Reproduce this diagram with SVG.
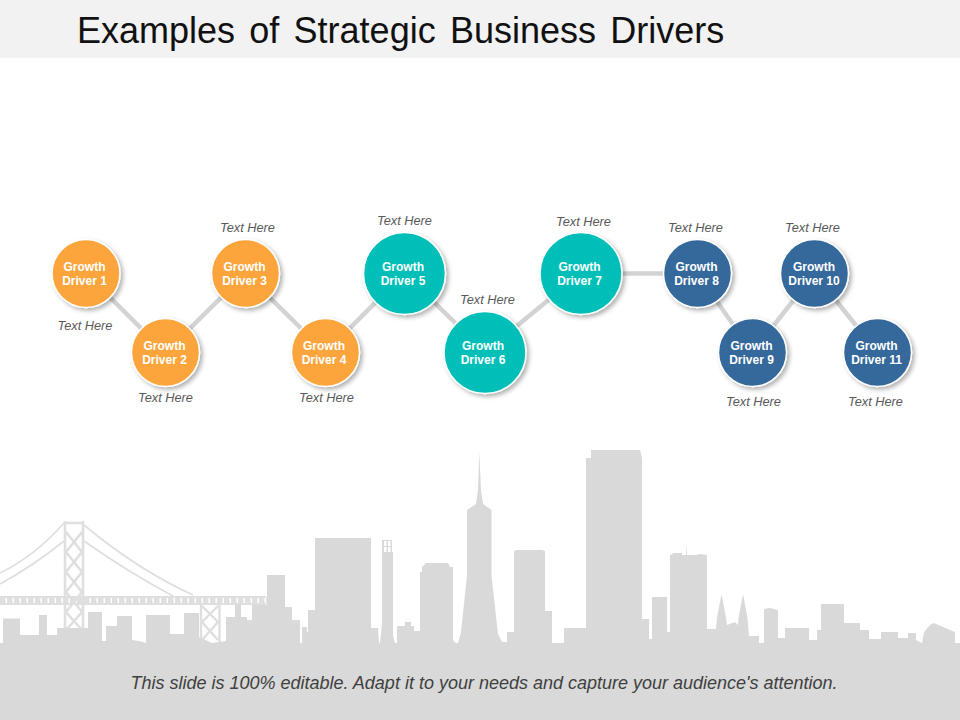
<svg xmlns="http://www.w3.org/2000/svg" width="960" height="720" viewBox="0 0 960 720">
<style>
text{font-family:"Liberation Sans",Arial,sans-serif}
.n{font-size:12px;font-weight:bold;fill:#fff;text-anchor:middle}
.l{font-size:12.8px;font-style:italic;fill:#595959;text-anchor:middle}
.o{fill:#fda53d;stroke:#fff;stroke-width:1.5}
.t{fill:#00bfb8;stroke:#fff;stroke-width:1.5}
.b{fill:#35689b;stroke:#fff;stroke-width:1.5}
.c{stroke:#d3d3d3;stroke-width:4.5;fill:none}
.br{stroke:#dfdfdf;fill:none}
</style>
<defs>
<filter id="s" x="-30%" y="-30%" width="170%" height="170%"><feDropShadow dx="2.5" dy="2.5" stdDeviation="2.2" flood-color="#000" flood-opacity=".3"/></filter>
</defs>
<rect width="960" height="58" fill="#f2f2f2"/>
<text x="77" y="43" font-size="36" word-spacing="4.250" fill="#111">Examples of Strategic Business Drivers</text>

<g id="bridge" class="br">
<path d="M0 573Q35 556 64 523M84 525Q138 570 193 595M0 584Q33 566 64 541M84 541Q128 572 173 596" stroke-width="1.8"/>
<path d="M65 521V630M83 521V630M64 523H84M66 532L82 552L66 572L82 592L66 612L82 630M82 532L66 552L82 572L66 592L82 612L66 630" stroke-width="2.600"/>
<path d="M0 597H266M0 604H266" stroke-width="2"/>
<path d="M0 600.500H267" stroke-width="6" stroke-dasharray="5.500 1.500"/>
<path d="M201 604V642M219.500 604V642M202 606L218 622L202 640M218 606L202 622L218 640" stroke-width="2.400"/>
</g>
<path id="skyline" fill="#d9d9d9" d="M0 720V643H3V618.500H20V635H39V615H47V635H57V628H88V612H102V641H106V626H117V616H132V640L139 641L146 643V615H170V634H184V613H199V637L212 643L226 641V617H235V605H241V617H247V620H252V605H267V575H285V607H292V620H300V643H302V627H307V632H308V610H315V538H371V628H378L379 643H380L382 624V552H382V540H392V552H393V636L395 643H397V626H405V622H411V626H414V631H420V572H422V567L426 563H448L450 567H453V640L456 643H458L461 632L467 576V510L476 504L478 490L479.300 452L481 490L483 504L491.500 510V576L498 634L502 642H507V632H514V551L517 550H542L545 551V611H552V643H564V628H586V458H591V450H640L642 458V619H649V639H652V597H667V632H670V555L674 553H682V555H686L686.500 543L687 555H696L700 554L707 555V629H716L717 618L721.500 594L726 618L727 625L735 622L738 625L738.500 618L743 594L747.500 618L749 636H759V643H764V609L770 608L778 610V638H785V628H809V640H817V630H821V604H844V623H860V630H869V639H881V632H898V638H908V633H916V640L922 643L924 632L930 625L934 623L943 627L950 630L955 632V643H960V720Z"/>
<g fill="#fff"><rect x="384" y="541" width="2.500" height="5"/><rect x="388" y="541" width="2.500" height="5"/><rect x="384" y="547" width="2.500" height="5"/><rect x="388" y="547" width="2.500" height="5"/></g>

<g id="connectors" class="c">
<path d="M86 273.500L165.500 352.500L245.500 273.500L325.500 352.500L404.500 273.500L485 352L581 273.500H697.500L752.500 352.500L814.500 273.500L877.500 352.500"/>
</g>

<g id="node1"><circle class="o" cx="86" cy="273.500" r="34" filter="url(#s)"/><text class="n" x="84.500" y="271">Growth</text><text class="n" x="84.500" y="285">Driver 1</text><text class="l" x="85" y="330">Text Here</text></g>
<g id="node2"><circle class="o" cx="165.500" cy="352.500" r="34" filter="url(#s)"/><text class="n" x="164.500" y="350">Growth</text><text class="n" x="164.500" y="364">Driver 2</text><text class="l" x="165.500" y="402">Text Here</text></g>
<g id="node3"><circle class="o" cx="245.500" cy="273.500" r="34" filter="url(#s)"/><text class="n" x="244.500" y="271">Growth</text><text class="n" x="244.500" y="285">Driver 3</text><text class="l" x="247.500" y="232">Text Here</text></g>
<g id="node4"><circle class="o" cx="325.500" cy="352.500" r="34" filter="url(#s)"/><text class="n" x="324" y="350">Growth</text><text class="n" x="324" y="364">Driver 4</text><text class="l" x="326.500" y="402">Text Here</text></g>
<g id="node5"><circle class="t" cx="404.500" cy="273.500" r="41" filter="url(#s)"/><text class="n" x="403" y="271">Growth</text><text class="n" x="403" y="285">Driver 5</text><text class="l" x="404.500" y="225">Text Here</text></g>
<g id="node6"><circle class="t" cx="485" cy="352.500" r="41" filter="url(#s)"/><text class="n" x="483" y="350">Growth</text><text class="n" x="483" y="364">Driver 6</text><text class="l" x="487.500" y="304">Text Here</text></g>
<g id="node7"><circle class="t" cx="581" cy="273.500" r="41" filter="url(#s)"/><text class="n" x="579.500" y="271">Growth</text><text class="n" x="579.500" y="285">Driver 7</text><text class="l" x="583.500" y="226">Text Here</text></g>
<g id="node8"><circle class="b" cx="697.500" cy="273.500" r="34" filter="url(#s)"/><text class="n" x="696.500" y="271">Growth</text><text class="n" x="696.500" y="285">Driver 8</text><text class="l" x="695.500" y="232">Text Here</text></g>
<g id="node9"><circle class="b" cx="752.500" cy="352.500" r="34" filter="url(#s)"/><text class="n" x="751.500" y="350">Growth</text><text class="n" x="751.500" y="364">Driver 9</text><text class="l" x="753.500" y="406">Text Here</text></g>
<g id="node10"><circle class="b" cx="814.500" cy="273.500" r="34" filter="url(#s)"/><text class="n" x="814" y="271">Growth</text><text class="n" x="814" y="285">Driver 10</text><text class="l" x="812.500" y="232">Text Here</text></g>
<g id="node11"><circle class="b" cx="877.500" cy="352.500" r="34" filter="url(#s)"/><text class="n" x="876.500" y="350">Growth</text><text class="n" x="876.500" y="364">Driver 11</text><text class="l" x="875.500" y="406">Text Here</text></g>

<text x="484" y="689" font-size="18" font-style="italic" fill="#404040" text-anchor="middle">This slide is 100% editable. Adapt it to your needs and capture your audience's attention.</text>
</svg>
